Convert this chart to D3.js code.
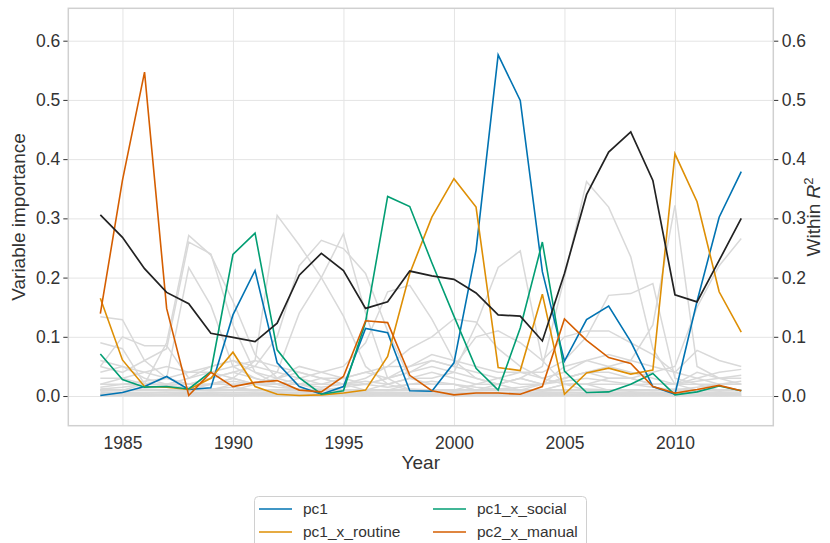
<!DOCTYPE html>
<html>
<head>
<meta charset="utf-8">
<script src="https://cdn.jsdelivr.net/npm/d3@7"></script>
<style>
  body { margin: 0; background: #fff; }
  text { font-family: "Liberation Sans", Arial, sans-serif; fill: #333; }
</style>
</head>
<body>
<svg id="chart" width="830" height="543"></svg>
<script>
// years on the x axis
const years = [1984,1985,1986,1987,1988,1989,1990,1991,1992,1993,1994,1995,1996,1997,1998,
               1999,2000,2001,2002,2003,2004,2005,2006,2007,2008,2009,2010,2011,2012,2013];

// highlighted variables
const pc1 = [0.001,0.006,0.016,0.033,0.011,0.014,0.137,0.212,0.056,0.016,0.003,0.016,0.114,0.107,0.009,
             0.008,0.056,0.246,0.576,0.499,0.210,0.059,0.129,0.152,0.092,0.016,0.003,0.160,0.302,0.379];
const pc1_x_routine = [0.165,0.061,0.016,0.015,0.011,0.030,0.074,0.016,0.003,0.001,0.002,0.005,0.010,0.067,0.207,
                       0.302,0.367,0.319,0.048,0.043,0.172,0.003,0.039,0.047,0.037,0.044,0.409,0.328,0.176,0.108];
const pc1_x_social = [0.071,0.028,0.015,0.016,0.012,0.041,0.239,0.275,0.078,0.031,0.003,0.009,0.125,0.337,0.320,
                      0.225,0.135,0.047,0.010,0.115,0.260,0.042,0.006,0.007,0.020,0.038,0.002,0.007,0.017,0.009];
const pc2_x_manual = [0.139,0.364,0.547,0.148,0.001,0.040,0.016,0.023,0.026,0.010,0.007,0.033,0.127,0.124,0.035,
                      0.009,0.002,0.005,0.005,0.003,0.016,0.130,0.094,0.065,0.055,0.016,0.005,0.011,0.018,0.009];

// within R^2 (right axis)
const withinR2 = [0.306,0.268,0.215,0.175,0.156,0.106,0.099,0.092,0.123,0.204,0.241,0.212,0.148,0.159,0.211,
                  0.203,0.197,0.174,0.137,0.135,0.093,0.207,0.340,0.412,0.446,0.364,0.171,0.159,0.229,0.300];

// all other variables, drawn in grey
const grey01 = [0.020,0.030,0.020,0.090,0.271,0.238,0.160,0.070,0.030,0.020,0.010,0.010,0.010,0.010,0.010,0.010,0.010,0.010,0.010,0.010,0.010,0.010,0.010,0.010,0.010,0.010,0.010,0.010,0.010,0.010];
const grey02 = [0.050,0.040,0.060,0.080,0.260,0.240,0.120,0.040,0.020,0.020,0.030,0.020,0.010,0.010,0.020,0.020,0.020,0.010,0.010,0.010,0.010,0.020,0.020,0.010,0.010,0.010,0.010,0.010,0.010,0.010];
const grey03 = [0.090,0.080,0.020,0.030,0.217,0.153,0.050,0.030,0.020,0.010,0.010,0.010,0.010,0.010,0.010,0.010,0.010,0.010,0.010,0.010,0.010,0.010,0.010,0.010,0.010,0.010,0.010,0.010,0.010,0.010];
const grey04 = [0.010,0.010,0.010,0.010,0.010,0.020,0.030,0.060,0.305,0.255,0.200,0.135,0.050,0.020,0.010,0.010,0.010,0.010,0.010,0.010,0.010,0.010,0.010,0.010,0.010,0.010,0.010,0.010,0.010,0.010];
const grey05 = [0.010,0.010,0.020,0.020,0.020,0.030,0.040,0.050,0.100,0.220,0.263,0.249,0.207,0.110,0.030,0.020,0.020,0.010,0.010,0.010,0.010,0.010,0.010,0.010,0.010,0.010,0.010,0.010,0.010,0.010];
const grey06 = [0.010,0.010,0.010,0.010,0.010,0.010,0.020,0.020,0.040,0.140,0.200,0.274,0.140,0.030,0.010,0.010,0.010,0.010,0.010,0.010,0.010,0.010,0.010,0.010,0.010,0.010,0.010,0.010,0.010,0.010];
const grey07 = [0.010,0.010,0.010,0.010,0.010,0.010,0.010,0.020,0.020,0.030,0.040,0.050,0.090,0.176,0.187,0.130,0.060,0.030,0.020,0.010,0.010,0.010,0.010,0.010,0.010,0.010,0.010,0.010,0.010,0.010];
const grey08 = [0.010,0.010,0.010,0.010,0.010,0.010,0.010,0.010,0.010,0.010,0.010,0.010,0.010,0.020,0.030,0.030,0.040,0.120,0.217,0.245,0.060,0.020,0.010,0.010,0.010,0.010,0.010,0.010,0.010,0.010];
const grey09 = [0.010,0.010,0.010,0.010,0.010,0.010,0.010,0.010,0.010,0.010,0.010,0.010,0.010,0.010,0.010,0.010,0.010,0.010,0.020,0.030,0.050,0.200,0.362,0.319,0.235,0.080,0.020,0.010,0.010,0.010];
const grey10 = [0.010,0.010,0.010,0.010,0.010,0.010,0.010,0.010,0.010,0.010,0.010,0.010,0.010,0.010,0.010,0.010,0.010,0.010,0.010,0.010,0.020,0.030,0.040,0.050,0.060,0.120,0.322,0.050,0.030,0.020];
const grey11 = [0.010,0.010,0.010,0.010,0.010,0.010,0.010,0.010,0.010,0.010,0.010,0.010,0.010,0.010,0.010,0.010,0.010,0.010,0.010,0.010,0.010,0.020,0.020,0.030,0.030,0.040,0.050,0.150,0.220,0.266];
const grey12 = [0.010,0.010,0.010,0.010,0.010,0.010,0.010,0.010,0.010,0.010,0.010,0.010,0.010,0.010,0.010,0.010,0.010,0.020,0.030,0.040,0.040,0.060,0.100,0.170,0.173,0.190,0.030,0.020,0.010,0.010];
const grey13 = [0.134,0.129,0.060,0.030,0.020,0.020,0.030,0.020,0.020,0.010,0.010,0.010,0.010,0.010,0.010,0.010,0.010,0.010,0.010,0.010,0.010,0.010,0.010,0.010,0.010,0.010,0.010,0.010,0.010,0.010];
const grey14 = [0.050,0.100,0.085,0.085,0.030,0.050,0.060,0.040,0.030,0.040,0.030,0.020,0.020,0.030,0.040,0.060,0.050,0.040,0.030,0.020,0.020,0.030,0.040,0.040,0.030,0.020,0.020,0.030,0.020,0.020];
const grey15 = [0.020,0.020,0.020,0.020,0.020,0.020,0.020,0.020,0.020,0.020,0.020,0.020,0.030,0.050,0.080,0.100,0.130,0.125,0.080,0.050,0.030,0.020,0.020,0.020,0.020,0.020,0.020,0.020,0.020,0.020];
const grey16 = [0.030,0.030,0.040,0.050,0.040,0.040,0.050,0.060,0.050,0.040,0.030,0.030,0.040,0.050,0.050,0.060,0.050,0.100,0.110,0.090,0.060,0.100,0.110,0.110,0.090,0.070,0.040,0.077,0.060,0.050];
const grey17 = [0.040,0.050,0.040,0.030,0.040,0.050,0.060,0.050,0.040,0.030,0.020,0.030,0.040,0.030,0.050,0.070,0.060,0.050,0.040,0.040,0.030,0.040,0.060,0.070,0.060,0.050,0.040,0.030,0.040,0.045];
const grey18 = [0.015,0.020,0.025,0.030,0.020,0.030,0.040,0.030,0.020,0.020,0.015,0.020,0.025,0.020,0.030,0.040,0.030,0.020,0.020,0.030,0.020,0.030,0.040,0.030,0.030,0.020,0.020,0.025,0.030,0.035];
const grey19 = [0.008,0.010,0.012,0.010,0.008,0.012,0.015,0.010,0.008,0.010,0.012,0.010,0.008,0.010,0.012,0.010,0.008,0.010,0.012,0.010,0.008,0.010,0.012,0.010,0.008,0.010,0.012,0.010,0.008,0.010];
const grey20 = [0.004,0.005,0.006,0.005,0.004,0.005,0.006,0.005,0.004,0.005,0.006,0.005,0.004,0.005,0.006,0.005,0.004,0.005,0.006,0.005,0.004,0.005,0.006,0.005,0.004,0.005,0.006,0.005,0.004,0.005];
const grey21 = [0.002,0.002,0.003,0.002,0.002,0.002,0.003,0.002,0.002,0.002,0.003,0.002,0.002,0.002,0.003,0.002,0.002,0.002,0.003,0.002,0.002,0.002,0.003,0.002,0.002,0.002,0.003,0.002,0.002,0.002];
const grey22 = [0.001,0.001,0.001,0.001,0.001,0.001,0.001,0.001,0.001,0.001,0.001,0.001,0.001,0.001,0.001,0.001,0.001,0.001,0.001,0.001,0.001,0.001,0.001,0.001,0.001,0.001,0.001,0.001,0.001,0.001];
const grey23 = [0.006,0.007,0.006,0.007,0.006,0.007,0.006,0.007,0.006,0.007,0.006,0.007,0.006,0.007,0.006,0.007,0.006,0.007,0.006,0.007,0.006,0.007,0.006,0.007,0.006,0.007,0.006,0.007,0.006,0.007];
const grey24 = [0.003,0.004,0.004,0.003,0.004,0.004,0.003,0.004,0.004,0.003,0.004,0.004,0.003,0.004,0.004,0.003,0.004,0.004,0.003,0.004,0.004,0.003,0.004,0.004,0.003,0.004,0.004,0.003,0.004,0.004];
const grey25 = [0.000,0.001,0.000,0.001,0.000,0.001,0.000,0.001,0.000,0.001,0.000,0.001,0.000,0.001,0.000,0.001,0.000,0.001,0.000,0.001,0.000,0.001,0.000,0.001,0.000,0.001,0.000,0.001,0.000,0.001];
const grey26 = [0.012,0.015,0.020,0.018,0.015,0.020,0.025,0.020,0.015,0.012,0.010,0.015,0.020,0.015,0.020,0.025,0.020,0.015,0.012,0.015,0.020,0.025,0.030,0.025,0.020,0.015,0.010,0.015,0.020,0.025];
const grey27 = [0.060,0.050,0.030,0.020,0.030,0.040,0.030,0.020,0.030,0.050,0.040,0.030,0.020,0.030,0.040,0.050,0.040,0.030,0.020,0.030,0.020,0.050,0.060,0.050,0.040,0.030,0.020,0.040,0.030,0.030];
const greyLines = [grey01,grey02,grey03,grey04,grey05,grey06,grey07,grey08,grey09,grey10,grey11,
                   grey12,grey13,grey14,grey15,grey16,grey17,grey18,grey19,grey20,grey21,grey22,
                   grey23,grey24,grey25,grey26,grey27];

const series = [
  {name: "pc1", values: pc1, color: "#0173b2"},
  {name: "pc1_x_routine", values: pc1_x_routine, color: "#de8f05"},
  {name: "pc1_x_social", values: pc1_x_social, color: "#029e73"},
  {name: "pc2_x_manual", values: pc2_x_manual, color: "#d55e00"}
];
const xTicks = [1985,1990,1995,2000,2005,2010];
const yTicks = [0,0.1,0.2,0.3,0.4,0.5,0.6];

let svg = d3.select("#chart");
let plotLeft = 68.3, plotRight = 773.3, plotTop = 8.3, plotBottom = 425.7;

let x = d3.scaleLinear().domain([1982.55, 2014.45]).range([plotLeft, plotRight]);
let y = d3.scaleLinear().domain([-0.0501, 0.6547]).range([plotBottom, plotTop]);

// grid
svg.append("g")
    .attr("transform", `translate(${plotLeft},0)`)
    .call(d3.axisLeft(y).tickValues(yTicks).tickSize(-(plotRight - plotLeft)).tickFormat(""))
    .call(g => g.select(".domain").remove())
    .call(g => g.selectAll("line").attr("stroke", "#e4e4e4").attr("stroke-width", 1));
svg.append("g")
    .attr("transform", `translate(0,${plotBottom})`)
    .call(d3.axisBottom(x).tickValues(xTicks).tickSize(-(plotBottom - plotTop)).tickFormat(""))
    .call(g => g.select(".domain").remove())
    .call(g => g.selectAll("line").attr("stroke", "#e4e4e4").attr("stroke-width", 1));

// axes
let styleAxis = g => {
  g.select(".domain").remove();
  g.selectAll("line").attr("stroke", "#333").attr("stroke-width", 1);
  g.selectAll("text").attr("fill", "#333").style("font-size", "17.5px")
    .style("font-family", '"Liberation Sans", Arial, sans-serif');
};
svg.append("g")
    .attr("transform", `translate(${plotLeft},0)`)
    .call(d3.axisLeft(y).tickValues(yTicks).tickSize(5).tickPadding(3).tickFormat(d3.format(".1f")))
    .call(styleAxis);
svg.append("g")
    .attr("transform", `translate(${plotRight},0)`)
    .call(d3.axisRight(y).tickValues(yTicks).tickSize(5).tickPadding(3.4).tickFormat(d3.format(".1f")))
    .call(styleAxis);
svg.append("g")
    .attr("transform", `translate(0,${plotBottom})`)
    .call(d3.axisBottom(x).tickValues(xTicks).tickSize(0).tickPadding(10.5).tickFormat(d3.format("d")))
    .call(styleAxis);

// lines
let line = d3.line()
    .x((d, i) => x(years[i]))
    .y(d => y(d));

svg.append("g").selectAll("path")
    .data(greyLines)
    .enter()
    .append("path")
    .attr("d", line)
    .attr("fill", "none")
    .attr("stroke", "#d9d9d9")
    .attr("stroke-width", 1.5);

svg.append("g").selectAll("path")
    .data(series)
    .enter()
    .append("path")
    .attr("d", d => line(d.values))
    .attr("fill", "none")
    .attr("stroke", d => d.color)
    .attr("stroke-width", 1.6);

svg.append("path")
    .attr("d", line(withinR2))
    .attr("fill", "none")
    .attr("stroke", "#222")
    .attr("stroke-width", 1.7);

// frame
svg.append("rect")
    .attr("x", plotLeft).attr("y", plotTop)
    .attr("width", plotRight - plotLeft).attr("height", plotBottom - plotTop)
    .attr("fill", "none")
    .attr("stroke", "#d0d0d0")
    .attr("stroke-width", 1.5);

// axis labels
svg.append("text")
    .attr("x", x(1998.5)).attr("y", 469)
    .attr("text-anchor", "middle")
    .style("font-size", "19px")
    .text("Year");
svg.append("text")
    .attr("transform", `translate(25,${(plotTop + plotBottom) / 2}) rotate(-90)`)
    .attr("text-anchor", "middle")
    .style("font-size", "19px")
    .text("Variable importance");
let r2 = svg.append("text")
    .attr("transform", `translate(820,${(plotTop + plotBottom) / 2}) rotate(-90)`)
    .attr("text-anchor", "middle")
    .style("font-size", "19px");
r2.append("tspan").text("Within ");
r2.append("tspan").style("font-style", "italic").text("R");
r2.append("tspan").attr("dy", -7).style("font-size", "13px").text("2");

// legend
let legend = svg.append("g");
legend.append("rect")
    .attr("x", 254.5).attr("y", 496.5)
    .attr("width", 332).attr("height", 70)
    .attr("rx", 4)
    .attr("fill", "#fff")
    .attr("stroke", "#d0d0d0");
let legendPos = [[259, 509], [259, 532], [433, 509], [433, 532]];
series.forEach((s, i) => {
  let [lx, ly] = legendPos[i];
  legend.append("line")
      .attr("x1", lx).attr("x2", lx + 33)
      .attr("y1", ly).attr("y2", ly)
      .attr("stroke", s.color).attr("stroke-width", 1.6);
  legend.append("text")
      .attr("x", lx + 44).attr("y", ly)
      .attr("dy", "0.35em")
      .style("font-size", "15.5px")
      .text(s.name);
});
</script>
</body>
</html>
